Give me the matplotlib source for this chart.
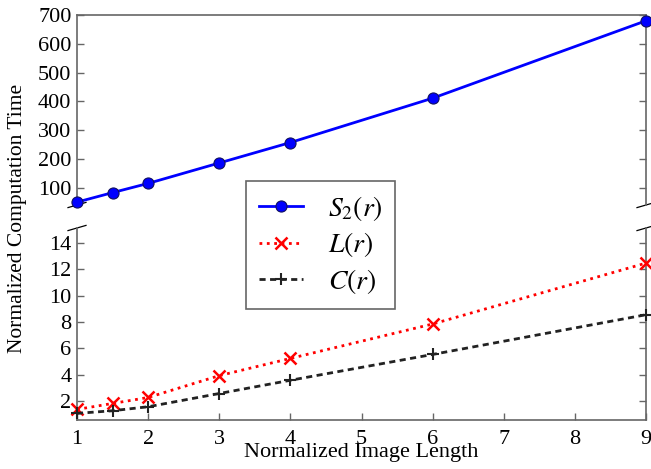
import matplotlib
matplotlib.use("Agg")
import matplotlib.pyplot as plt

plt.rcParams['font.family'] = ['Liberation Serif', 'DejaVu Serif']
plt.rcParams['mathtext.fontset'] = 'stix'

# data
r = [1, 1.5, 2, 3, 4, 6, 9]
s2 = [50, 83, 115, 186, 257, 411, 680]
lr = [1.4, 1.85, 2.3, 3.95, 5.25, 7.85, 12.45]
cr = [1.1, 1.3, 1.6, 2.6, 3.6, 5.55, 8.55]

top_ticks = [100, 200, 300, 400, 500, 600, 700]
bot_ticks = [2, 4, 6, 8, 10, 12, 14]
x_ticks = [1, 2, 3, 4, 5, 6, 7, 8, 9]

fig = plt.figure(figsize=(6.51, 4.69), dpi=100)
W, H = 651, 469
ax_top = fig.add_axes([77 / W, 1 - 205 / H, 569 / W, 190 / H])
ax_bot = fig.add_axes([77 / W, 1 - 420 / H, 569 / W, 192 / H])

h1, = ax_top.plot(r, s2, '-o', color='blue', lw=2, ms=8, mfc='blue', mec='#101060',
                  mew=0.8, clip_on=False, zorder=3, label='$S_2(r)$')
h2, = ax_bot.plot(r, lr, ':x', color='red', lw=2, ms=8, mew=1.8, clip_on=False,
                  zorder=3, label='$L(r)$')
h3, = ax_bot.plot(r, cr, '--+', color='#222222', lw=2, ms=9, mew=1.5, clip_on=False,
                  zorder=3, label='$C(r)$', dashes=(2.2, 1.6))

ax_top.set_ylim(40, 700)
ax_bot.set_ylim(0.6, 15.1)
for ax in (ax_top, ax_bot):
    ax.set_xlim(1, 9)
    ax.set_xticks(x_ticks)
    ax.tick_params(direction='in', right=True, labelsize=16, color='0.4',
                   length=5, width=1, pad=4)
    for sp in ax.spines.values():
        sp.set_color('0.4')
        sp.set_linewidth(1.2)
ax_bot.tick_params(axis='x', pad=7)

ax_top.set_yticks(top_ticks)
ax_bot.set_yticks(bot_ticks)
ax_top.spines['bottom'].set_visible(False)
ax_bot.spines['top'].set_visible(False)
ax_top.tick_params(bottom=False, labelbottom=False, top=False)
ax_bot.tick_params(top=False)

# break marks
dx, dy = 9 / 569, 2.6 / 190
kw = dict(color='k', lw=0.9, clip_on=False)
for xc in (0, 1):
    ax_top.plot([xc - dx, xc + dx], [-dy, dy], transform=ax_top.transAxes, **kw)
    dyb = 2.6 / 192
    ax_bot.plot([xc - dx, xc + dx], [1 - dyb, 1 + dyb], transform=ax_bot.transAxes, **kw)

fig.text(18 / W, 1 - 218 / H, 'Normalized Computation Time', rotation=90,
         ha='center', va='center', fontsize=15.5)
fig.text(361 / W, 1 - 452 / H, 'Normalized Image Length', ha='center', va='center',
         fontsize=16)

leg = fig.legend(handles=[h1, h2, h3], loc='upper left',
                 bbox_to_anchor=(246 / W, 1 - 181 / H), fontsize=20,
                 fancybox=False, framealpha=1, edgecolor='0.4', handlelength=1.6,
                 borderpad=0.45, labelspacing=0.28, handletextpad=0.9, borderaxespad=0)
leg.get_frame().set_linewidth(1.2)

fig.savefig('out.png', dpi=100)
